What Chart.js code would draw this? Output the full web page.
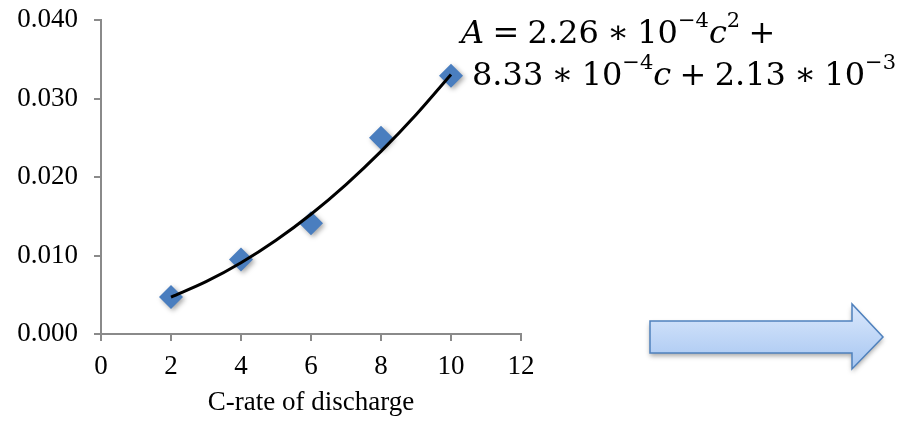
<!DOCTYPE html>
<html>
<head>
<meta charset="utf-8">
<script src="https://cdn.jsdelivr.net/npm/chart.js@4/dist/chart.umd.min.js"></script>
<style>
  html, body { margin: 0; padding: 0; background: #fff; }
  #wrap { width: 901px; height: 421px; position: relative; }
</style>
</head>
<body>
<div id="wrap"><canvas id="c" width="901" height="421"></canvas></div>
<script>
// Measured values at each discharge C-rate
const cRates = [2, 4, 6, 8, 10];
const measured = [0.0047, 0.0095, 0.0141, 0.0250, 0.0329];

// Quadratic trend line, sampled along the C-rate range
const fitC = [2, 3, 4, 5, 6, 7, 8, 9, 10];
const fitA = [0.00470, 0.00666, 0.00908, 0.01195, 0.01526, 0.01904, 0.02326, 0.02793, 0.03306];

// Axis ticks and labels
const xTicks = [0, 2, 4, 6, 8, 10, 12];
const yTicks = [0.000, 0.010, 0.020, 0.030, 0.040];
const xTitle = 'C-rate of discharge';

// Trend-line equation as runs: n = normal, i = italic, s = superscript, o = spaced operator
const eqLine1 = [['A', 'i'], ['=', 'o'], ['2.26', 'n'], ['\u2217', 'o'], ['10', 'n'],
                 ['\u22124', 's'], ['c', 'i'], ['2', 's'], ['+', 'o']];
const eqLine2 = [['8.33', 'n'], ['\u2217', 'o'], ['10', 'n'], ['\u22124', 's'], ['c', 'i'],
                 ['+', 'o'], ['2.13', 'n'], ['\u2217', 'o'], ['10', 'n'], ['\u22123', 's']];

const AXIS = '#8a8a8a';
const SERIF = '"Liberation Serif", "Times New Roman", serif';
const MATH = '"DejaVu Serif", serif';

const markerShadow = {
  id: 'markerShadow',
  beforeDatasetDraw(chart, args) {
    if (args.index !== 1) return;
    const ctx = chart.ctx;
    ctx.save();
    ctx.shadowColor = 'rgba(0,0,0,0.35)';
    ctx.shadowBlur = 5;
    ctx.shadowOffsetX = 2;
    ctx.shadowOffsetY = 2;
  },
  afterDatasetDraw(chart, args) {
    if (args.index !== 1) return;
    chart.ctx.restore();
  }
};

// Lays the runs out left to right, with math spacing round the operators
function drawRuns(ctx, runs, x, baseline, size) {
  const gap = size * 0.26;
  runs.forEach(([txt, st], k) => {
    if (st === 's') {
      ctx.font = `${Math.round(size * 0.66)}px ${MATH}`;
      ctx.fillText(txt, x, baseline - size * 0.5);
      x += ctx.measureText(txt).width;
      return;
    }
    ctx.font = `${st === 'i' ? 'italic ' : ''}${size}px ${MATH}`;
    if (st === 'o' && k > 0) x += gap;
    ctx.fillText(txt, x, baseline);
    x += ctx.measureText(txt).width;
    if (st === 'o') x += gap;
  });
}

const decorations = {
  id: 'decorations',
  afterDraw(chart) {
    const ctx = chart.ctx;
    ctx.save();
    ctx.fillStyle = '#000';
    ctx.textBaseline = 'alphabetic';
    ctx.textAlign = 'left';
    drawRuns(ctx, eqLine1, 461, 43, 32);
    drawRuns(ctx, eqLine2, 472, 85, 32);
    ctx.restore();

    // Block arrow
    ctx.save();
    ctx.beginPath();
    ctx.moveTo(650, 321);
    ctx.lineTo(852, 321);
    ctx.lineTo(852, 304);
    ctx.lineTo(883, 337);
    ctx.lineTo(852, 369);
    ctx.lineTo(852, 353);
    ctx.lineTo(650, 353);
    ctx.closePath();
    const g = ctx.createLinearGradient(0, 304, 0, 369);
    g.addColorStop(0, '#dbe8fc');
    g.addColorStop(1, '#a6c6f1');
    ctx.shadowColor = 'rgba(0,0,0,0.35)';
    ctx.shadowBlur = 5;
    ctx.shadowOffsetY = 3;
    ctx.fillStyle = g;
    ctx.fill();
    ctx.shadowColor = 'transparent';
    ctx.strokeStyle = '#4f81bd';
    ctx.lineWidth = 1.5;
    ctx.stroke();
    ctx.restore();
  }
};

new Chart(document.getElementById('c'), {
  type: 'scatter',
  data: {
    datasets: [
      {
        type: 'line',
        data: fitC.map((c, i) => ({ x: c, y: fitA[i] })),
        borderColor: '#000',
        borderWidth: 3,
        pointRadius: 0,
        cubicInterpolationMode: 'monotone',
        fill: false,
        order: 0
      },
      {
        data: cRates.map((c, i) => ({ x: c, y: measured[i] })),
        pointStyle: 'rectRot',
        pointRadius: 12,
        backgroundColor: '#4a7ebf',
        borderWidth: 0,
        order: 1
      }
    ]
  },
  options: {
    responsive: false,
    animation: false,
    events: [],
    layout: { padding: { top: 20, right: 380, left: 0, bottom: 0 } },
    plugins: { legend: { display: false }, tooltip: { enabled: false } },
    scales: {
      x: {
        type: 'linear',
        min: 0,
        max: 12,
        afterBuildTicks: s => { s.ticks = xTicks.map(v => ({ value: v })); },
        afterFit: s => { s.height = 87; },
        grid: { drawOnChartArea: false, drawTicks: true, tickLength: 7, color: AXIS, lineWidth: 2 },
        border: { color: AXIS, width: 2 },
        ticks: { font: { family: SERIF, size: 27 }, color: '#000', padding: 10, maxRotation: 0 },
        title: { display: true, text: xTitle, font: { family: SERIF, size: 27 }, color: '#000', padding: { top: 0, bottom: 2 } }
      },
      y: {
        min: 0,
        max: 0.04,
        afterBuildTicks: s => { s.ticks = yTicks.map(v => ({ value: v })); },
        afterFit: s => { s.width = 101; s.paddingTop = 0; s.paddingBottom = 0; },
        grid: { drawOnChartArea: false, drawTicks: true, tickLength: 7, color: AXIS, lineWidth: 2 },
        border: { color: AXIS, width: 2 },
        ticks: { font: { family: SERIF, size: 27 }, color: '#000', padding: 16, callback: v => v.toFixed(3) }
      }
    }
  },
  plugins: [markerShadow, decorations]
});
</script>
</body>
</html>
